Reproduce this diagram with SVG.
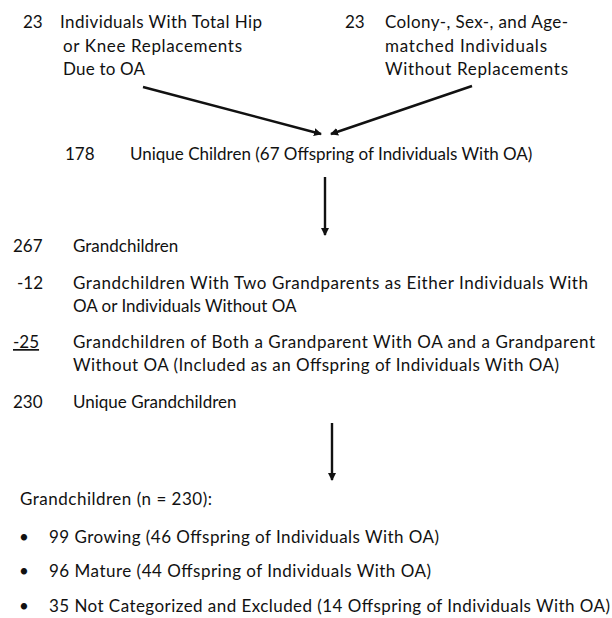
<svg xmlns="http://www.w3.org/2000/svg" width="612" height="618" viewBox="0 0 612 618">
<style>
text{font-family:Lato,"Open Sans","Liberation Sans",sans-serif;font-size:17px;fill:#111}
.c line{stroke:#111;stroke-width:2.4}
</style>
<defs>
<marker id="ah" markerWidth="10" markerHeight="10" refX="7" refY="5" orient="auto" markerUnits="userSpaceOnUse">
<path d="M0,1 L8,5 L0,9 Z" fill="#111"/>
</marker>
</defs>
<rect width="612" height="618" fill="#fff"/>
<g id="n-oa">
<text x="23" y="28">23</text>
<text x="60" y="28" textLength="202">Individuals With Total Hip</text>
<text x="63" y="52" textLength="179">or Knee Replacements</text>
<text x="63" y="75" textLength="82">Due to OA</text>
</g>
<g id="n-control">
<text x="345" y="28">23</text>
<text x="385" y="28" textLength="183">Colony-, Sex-, and Age-</text>
<text x="385" y="52" textLength="162">matched Individuals</text>
<text x="385" y="75" textLength="183">Without Replacements</text>
</g>
<g id="n-children">
<text x="65" y="160">178</text>
<text x="130" y="160">Unique Children (67 Offspring of Individuals With OA)</text>
</g>
<g id="n-grandchildren">
<text x="13" y="252">267</text>
<text x="73" y="252">Grandchildren</text>
<text x="17" y="289">-12</text>
<text x="73" y="289" textLength="515">Grandchildren With Two Grandparents as Either Individuals With</text>
<text x="73" y="312">OA or Individuals Without OA</text>
<text x="13" y="348" text-decoration="underline">-25</text>
<text x="73" y="348" textLength="522">Grandchildren of Both a Grandparent With OA and a Grandparent</text>
<text x="73" y="371" textLength="486">Without OA (Included as an Offspring of Individuals With OA)</text>
<text x="13" y="408">230</text>
<text x="73" y="408">Unique Grandchildren</text>
</g>
<g id="n-summary">
<text x="20" y="505" textLength="192">Grandchildren (n = 230):</text>
<text x="19" y="543">•</text>
<text x="49" y="543" textLength="390">99 Growing (46 Offspring of Individuals With OA)</text>
<text x="19" y="577">•</text>
<text x="49" y="577" textLength="382">96 Mature (44 Offspring of Individuals With OA)</text>
<text x="19" y="612">•</text>
<text x="49" y="612" textLength="561">35 Not Categorized and Excluded (14 Offspring of Individuals With OA)</text>
</g>
<g class="c" id="connectors">
<line x1="143" y1="87" x2="321" y2="134" marker-end="url(#ah)"/>
<line x1="472" y1="86" x2="331" y2="134" marker-end="url(#ah)"/>
<line x1="325" y1="177" x2="325" y2="235" marker-end="url(#ah)"/>
<line x1="332" y1="423" x2="332" y2="480" marker-end="url(#ah)"/>
</g>
</svg>
